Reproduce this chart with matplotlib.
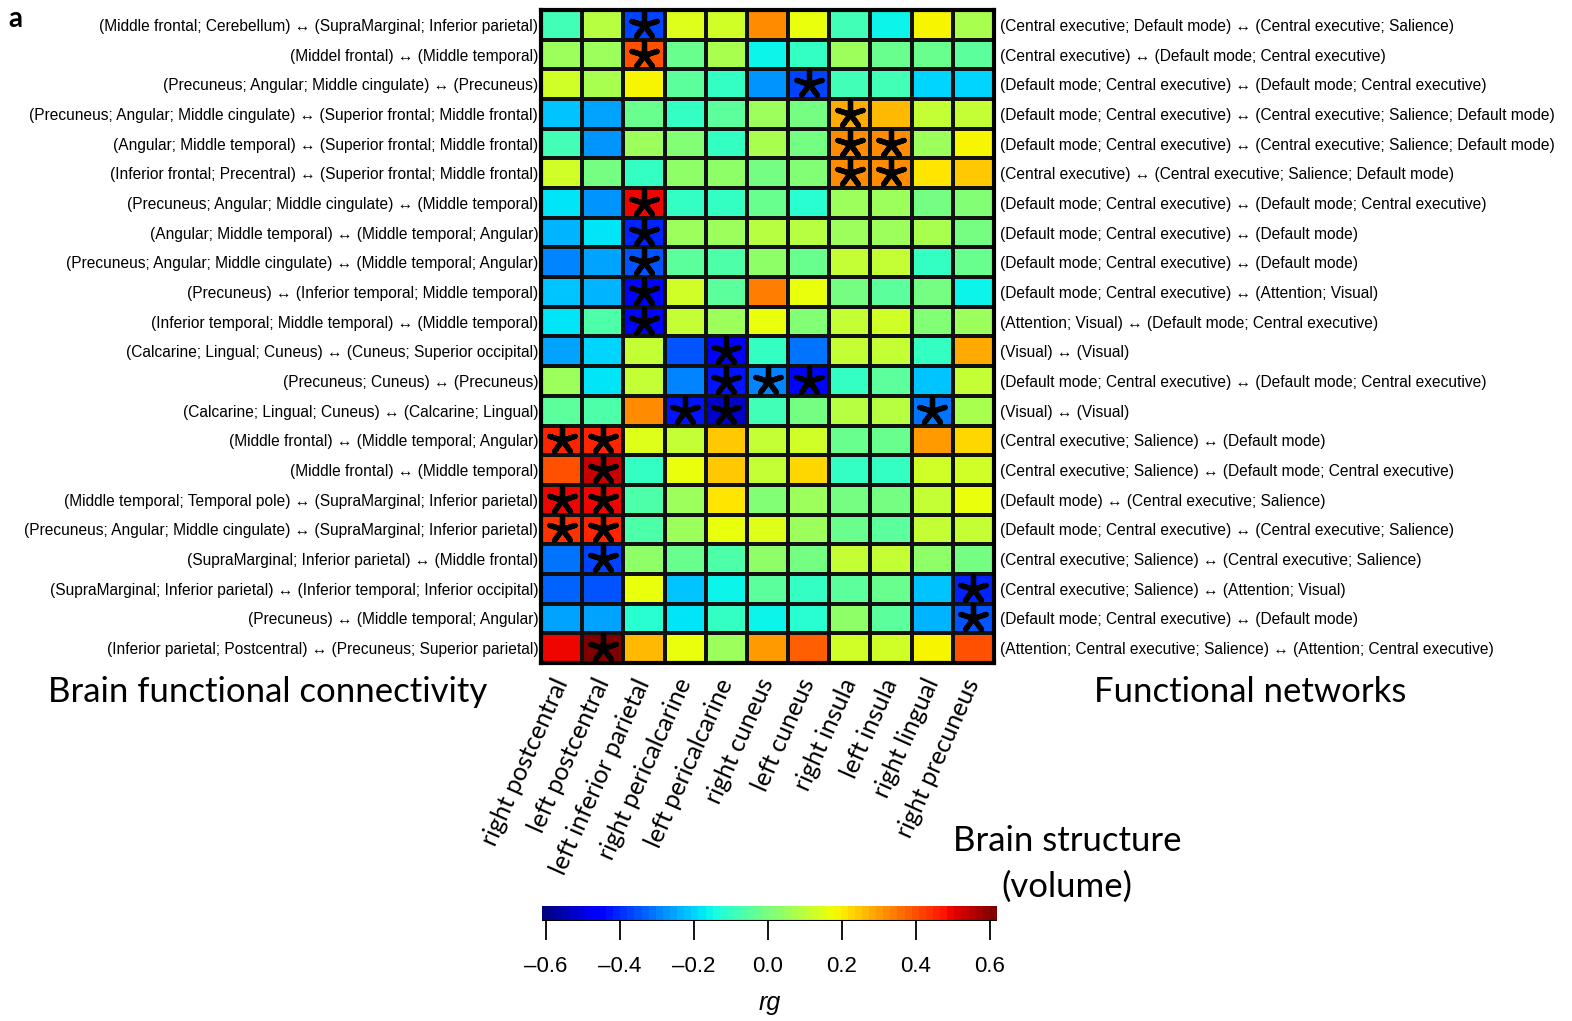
import numpy as np
import matplotlib.pyplot as plt
from matplotlib.colors import Normalize

plt.rcParams['font.family'] = ['Liberation Sans', 'DejaVu Sans']

structures = ['right postcentral', 'left postcentral', 'left inferior parietal',
              'right pericalcarine', 'left pericalcarine', 'right cuneus',
              'left cuneus', 'right insula', 'left insula', 'right lingual',
              'right precuneus']

connectivity = [
    '(Middle frontal; Cerebellum) \u2194 (SupraMarginal; Inferior parietal)',
    '(Middel frontal) \u2194 (Middle temporal)',
    '(Precuneus; Angular; Middle cingulate) \u2194 (Precuneus)',
    '(Precuneus; Angular; Middle cingulate) \u2194 (Superior frontal; Middle frontal)',
    '(Angular; Middle temporal) \u2194 (Superior frontal; Middle frontal)',
    '(Inferior frontal; Precentral) \u2194 (Superior frontal; Middle frontal)',
    '(Precuneus; Angular; Middle cingulate) \u2194 (Middle temporal)',
    '(Angular; Middle temporal) \u2194 (Middle temporal; Angular)',
    '(Precuneus; Angular; Middle cingulate) \u2194 (Middle temporal; Angular)',
    '(Precuneus) \u2194 (Inferior temporal; Middle temporal)',
    '(Inferior temporal; Middle temporal) \u2194 (Middle temporal)',
    '(Calcarine; Lingual; Cuneus) \u2194 (Cuneus; Superior occipital)',
    '(Precuneus; Cuneus) \u2194 (Precuneus)',
    '(Calcarine; Lingual; Cuneus) \u2194 (Calcarine; Lingual)',
    '(Middle frontal) \u2194 (Middle temporal; Angular)',
    '(Middle frontal) \u2194 (Middle temporal)',
    '(Middle temporal; Temporal pole) \u2194 (SupraMarginal; Inferior parietal)',
    '(Precuneus; Angular; Middle cingulate) \u2194 (SupraMarginal; Inferior parietal)',
    '(SupraMarginal; Inferior parietal) \u2194 (Middle frontal)',
    '(SupraMarginal; Inferior parietal) \u2194 (Inferior temporal; Inferior occipital)',
    '(Precuneus) \u2194 (Middle temporal; Angular)',
    '(Inferior parietal; Postcentral) \u2194 (Precuneus; Superior parietal)',
]

networks = [
    '(Central executive; Default mode) \u2194 (Central executive; Salience)',
    '(Central executive) \u2194 (Default mode; Central executive)',
    '(Default mode; Central executive) \u2194 (Default mode; Central executive)',
    '(Default mode; Central executive) \u2194 (Central executive; Salience; Default mode)',
    '(Default mode; Central executive) \u2194 (Central executive; Salience; Default mode)',
    '(Central executive) \u2194 (Central executive; Salience; Default mode)',
    '(Default mode; Central executive) \u2194 (Default mode; Central executive)',
    '(Default mode; Central executive) \u2194 (Default mode)',
    '(Default mode; Central executive) \u2194 (Default mode)',
    '(Default mode; Central executive) \u2194 (Attention; Visual)',
    '(Attention; Visual) \u2194 (Default mode; Central executive)',
    '(Visual) \u2194 (Visual)',
    '(Default mode; Central executive) \u2194 (Default mode; Central executive)',
    '(Visual) \u2194 (Visual)',
    '(Central executive; Salience) \u2194 (Default mode)',
    '(Central executive; Salience) \u2194 (Default mode; Central executive)',
    '(Default mode) \u2194 (Central executive; Salience)',
    '(Default mode; Central executive) \u2194 (Central executive; Salience)',
    '(Central executive; Salience) \u2194 (Central executive; Salience)',
    '(Central executive; Salience) \u2194 (Attention; Visual)',
    '(Default mode; Central executive) \u2194 (Default mode)',
    '(Attention; Central executive; Salience) \u2194 (Attention; Central executive)',
]

# genetic correlation rg, rows top to bottom, columns as in structures
rg = [
    [-0.09, 0.10, -0.38, 0.14, 0.13, 0.32, 0.16, -0.09, -0.15, 0.19, 0.07],
    [0.05, 0.05, 0.39, -0.02, 0.07, -0.15, -0.10, 0.05, -0.02, -0.02, -0.05],
    [0.13, 0.07, 0.19, -0.05, -0.10, -0.28, -0.37, -0.08, -0.08, -0.19, -0.19],
    [-0.22, -0.25, -0.02, -0.10, -0.05, 0.05, 0.00, 0.28, 0.26, 0.11, 0.11],
    [-0.08, -0.27, 0.05, 0.01, -0.10, 0.08, 0.00, 0.32, 0.32, 0.05, 0.19],
    [0.12, 0.00, -0.10, 0.03, 0.03, 0.00, 0.01, 0.32, 0.32, 0.20, 0.24],
    [-0.17, -0.28, 0.50, -0.10, -0.10, -0.03, -0.13, 0.05, 0.06, 0.00, 0.01],
    [-0.23, -0.18, -0.40, 0.05, 0.06, 0.09, 0.09, 0.05, 0.06, 0.07, 0.00],
    [-0.30, -0.25, -0.35, -0.04, -0.06, 0.03, -0.02, 0.11, 0.11, -0.10, -0.02],
    [-0.21, -0.24, -0.44, 0.13, -0.04, 0.35, 0.16, 0.00, -0.04, 0.00, -0.16],
    [-0.17, -0.06, -0.44, 0.11, 0.05, 0.16, 0.01, 0.11, 0.12, 0.01, 0.06],
    [-0.25, -0.19, 0.11, -0.35, -0.46, -0.10, -0.31, 0.11, 0.11, -0.10, 0.28],
    [0.05, -0.17, 0.11, -0.30, -0.42, -0.30, -0.44, -0.10, -0.04, -0.21, 0.11],
    [-0.04, -0.06, 0.32, -0.42, -0.53, -0.08, 0.00, 0.09, 0.10, -0.31, 0.08],
    [0.45, 0.45, 0.14, 0.11, 0.24, 0.11, 0.13, -0.02, -0.02, 0.31, 0.22],
    [0.39, 0.53, -0.10, 0.16, 0.24, 0.11, 0.22, -0.10, -0.10, 0.12, 0.13],
    [0.50, 0.50, -0.06, 0.06, 0.21, 0.01, 0.05, 0.00, 0.00, 0.11, 0.16],
    [0.43, 0.46, -0.06, 0.06, 0.16, 0.14, 0.05, -0.02, -0.04, 0.11, 0.11],
    [-0.31, -0.38, 0.03, -0.02, -0.06, 0.03, 0.00, 0.11, 0.11, 0.03, 0.00],
    [-0.33, -0.36, 0.16, -0.21, -0.16, -0.04, -0.10, -0.04, -0.02, -0.21, -0.40],
    [-0.25, -0.25, -0.12, -0.17, -0.10, -0.15, -0.12, 0.03, -0.04, -0.23, -0.36],
    [0.50, 0.62, 0.26, 0.16, 0.06, 0.30, 0.38, 0.12, 0.12, 0.19, 0.40],
]

# significant cells (row, column)
sig_rows = [0, 1, 2, 3, 4, 4, 5, 5, 6, 7, 8, 9, 10, 11, 12, 12, 12,
            13, 13, 13, 14, 14, 15, 16, 16, 17, 17, 18, 19, 20, 21]
sig_cols = [2, 2, 6, 7, 7, 8, 7, 8, 2, 2, 2, 2, 2, 4, 4, 5, 6,
            3, 4, 9, 0, 1, 1, 0, 1, 0, 1, 1, 10, 10, 1]

cb_ticks = [-0.6, -0.4, -0.2, 0.0, 0.2, 0.4, 0.6]

W, H = 1572, 1021
fig = plt.figure(figsize=(W / 100, H / 100), dpi=100)
ax = fig.add_axes([541 / W, 1 - 663 / H, 453 / W, 653 / H])

cmap = plt.get_cmap('jet', 64)
norm = Normalize(vmin=-0.611, vmax=0.62)
data = np.array(rg)
mesh = ax.pcolormesh(np.arange(len(structures) + 1) - 0.5,
                     np.arange(len(connectivity) + 1) - 0.5,
                     data, cmap=cmap, norm=norm,
                     edgecolors='#111111', linewidth=1.5)
ax.set_xlim(-0.5, len(structures) - 0.5)
ax.set_ylim(len(connectivity) - 0.5, -0.5)

ax.scatter(sig_cols, sig_rows, marker=(5, 2, 0), s=360, linewidths=3.8,
           color='black', zorder=3)

for sp in ax.spines.values():
    sp.set_linewidth(3)

ax.set_yticks(range(len(connectivity)))
ax.set_yticklabels(connectivity, fontsize=11.2)
ax.tick_params(axis='y', length=0, pad=2)

ax2 = ax.twinx()
ax2.set_ylim(ax.get_ylim())
ax2.set_yticks(range(len(networks)))
ax2.set_yticklabels(networks, fontsize=11.2)
ax2.tick_params(axis='y', length=0, pad=4)
for sp in ax2.spines.values():
    sp.set_visible(False)

ax.set_xticks(range(len(structures)))
ax.set_xticklabels(structures, rotation=66, ha='right', va='center',
                   rotation_mode='anchor', fontsize=18, family='Lato')
ax.tick_params(axis='x', length=0, pad=12)

# colorbar
cax = fig.add_axes([542 / W, 1 - 921 / H, 455 / W, 15 / H])
cb = fig.colorbar(mesh, cax=cax, orientation='horizontal', ticks=cb_ticks)
cb.outline.set_visible(False)
cax.axhline(0, color='black', lw=1.5)
cax.set_xticklabels([f'{t:.1f}'.replace('-', '\u2013') for t in cb_ticks], fontsize=16)
cax.tick_params(axis='x', length=14, width=1.3, pad=11)
cax.set_xlabel('rg', fontsize=18, style='italic', labelpad=10)

fig.text(268 / W, 1 - 692 / H, 'Brain functional connectivity', family='Lato',
         fontsize=25, ha='center', va='center')
fig.text(1250 / W, 1 - 692 / H, 'Functional networks', family='Lato',
         fontsize=25, ha='center', va='center')
fig.text(1067 / W, 1 - 864 / H, 'Brain structure\n(volume)', family='Lato',
         fontsize=25, ha='center', va='center', linespacing=1.55)
fig.text(8 / W, 1 - 19 / H, 'a', family='Lato', fontweight='bold',
         fontsize=20, ha='left', va='center')

fig.savefig('out.png', dpi=100)
